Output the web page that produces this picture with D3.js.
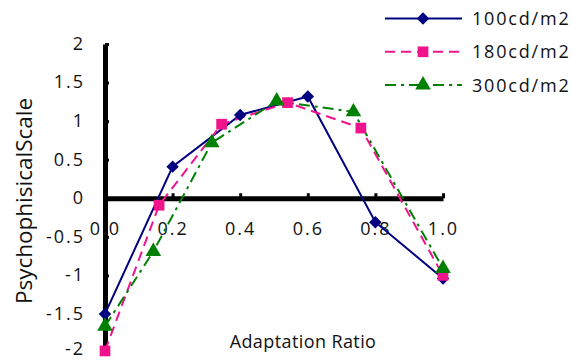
<!DOCTYPE html>
<html>
<head>
<meta charset="utf-8">
<script src="https://cdn.jsdelivr.net/npm/d3@7"></script>
<style>
  body { margin: 0; background: #fff; }
  svg { display: block; }
  text { font-family: "Open Sans", sans-serif; fill: #111; }
</style>
</head>
<body>
<svg width="572" height="362"></svg>
<script>
// series labels
const seriesNames = ['100cd/m2', '180cd/m2', '300cd/m2'];

// adaptation ratio (x) per series
const x100 = [0, 0.2, 0.4, 0.6, 0.8, 1.0];
const x180 = [0, 0.16, 0.345, 0.54, 0.757, 1.0];
const x300 = [0, 0.143, 0.316, 0.508, 0.735, 1.0];

// psychophysical scale (y) per series
const y100 = [-1.5, 0.41, 1.08, 1.32, -0.31, -1.04];
const y180 = [-1.98, -0.09, 0.96, 1.24, 0.91, -1.0];
const y300 = [-1.66, -0.69, 0.72, 1.26, 1.12, -0.91];

// tick values
const xTicks = [0, 0.2, 0.4, 0.6, 0.8, 1.0];
const yTicks = [-2, -1.5, -1, -0.5, 0, 0.5, 1, 1.5, 2];

// diamond = square turned 45 degrees
const series = [
    { name: seriesNames[0], xs: x100, ys: y100, color: '#000080', dash: null, symbol: d3.symbolSquare, size: 78, rot: 45 },
    { name: seriesNames[1], xs: x180, ys: y180, color: '#f0148c', dash: '10,6', symbol: d3.symbolSquare, size: 115, rot: 0 },
    { name: seriesNames[2], xs: x300, ys: y300, color: '#008000', dash: '11,5,3,5', symbol: d3.symbolTriangle, size: 105, rot: 0 }
];

const svg = d3.select('svg');

const x = d3.scaleLinear().domain([0, 1]).range([105, 443]);
const y = d3.scaleLinear().domain([-2, 2]).range([352.5, 44]);

// y axis (ticks point inward)
const yAxis = svg.append('g')
    .attr('transform', `translate(${x(0)},0)`)
    .call(d3.axisLeft(y).tickValues(yTicks).tickSizeInner(-4).tickSizeOuter(0).tickPadding(20)
        .tickFormat(d => String(d)));
yAxis.select('.domain').attr('stroke-width', 5);
yAxis.selectAll('.tick line').attr('stroke-width', 3);
yAxis.selectAll('text')
    .attr('dy', '0.3em')
    .style('font-size', '18px')
    .style('letter-spacing', '2px')
    .style('font-family', '"Open Sans", sans-serif')
    .attr('fill', '#111');
// keep the lowest label inside the frame
yAxis.selectAll('.tick').filter(d => d === -2).select('text').attr('dy', '0.1em');

// x axis sits at y = 0
const xAxis = svg.append('g')
    .attr('transform', `translate(0,${y(0)})`)
    .call(d3.axisBottom(x).tickValues(xTicks).tickSizeInner(-5).tickSizeOuter(0).tickPadding(24)
        .tickFormat(d => d.toFixed(1)));
xAxis.select('.domain').attr('stroke-width', 5);
xAxis.selectAll('.tick line').attr('stroke-width', 3);
xAxis.selectAll('text')
    .style('font-size', '18px')
    .style('letter-spacing', '2px')
    .style('font-family', '"Open Sans", sans-serif')
    .attr('fill', '#111');

// lines
const line = d3.line().x(d => x(d[0])).y(d => y(d[1]));

series.forEach(s => {
    const pts = s.xs.map((v, i) => [v, s.ys[i]]);
    svg.append('path')
        .datum(pts)
        .attr('fill', 'none')
        .attr('stroke', s.color)
        .attr('stroke-width', 2)
        .attr('stroke-dasharray', s.dash)
        .attr('d', line);
});

// markers on top
series.forEach(s => {
    const pts = s.xs.map((v, i) => [v, s.ys[i]]);
    svg.selectAll(null)
        .data(pts)
        .enter().append('path')
        .attr('transform', d => `translate(${x(d[0])},${y(d[1])}) rotate(${s.rot})`)
        .attr('d', d3.symbol().type(s.symbol).size(s.size))
        .attr('fill', s.color);
});

// axis titles
svg.append('text')
    .attr('x', 303)
    .attr('y', 348)
    .attr('text-anchor', 'middle')
    .style('font-size', '18px')
    .style('letter-spacing', '0.4px')
    .text('Adaptation Ratio');

svg.append('text')
    .attr('transform', 'translate(32,201) rotate(-90)')
    .attr('text-anchor', 'middle')
    .style('font-size', '22.5px')
    .text('PsychophisicalScale');

// legend
const legend = svg.append('g');
series.forEach((s, i) => {
    const ly = 18.5 + i * 33.3;
    legend.append('line')
        .attr('x1', 385).attr('x2', 462)
        .attr('y1', ly).attr('y2', ly)
        .attr('stroke', s.color)
        .attr('stroke-width', 2)
        .attr('stroke-dasharray', s.dash);
    legend.append('path')
        .attr('transform', `translate(423,${ly}) rotate(${s.rot})`)
        .attr('d', d3.symbol().type(s.symbol).size(s.size))
        .attr('fill', s.color);
    legend.append('text')
        .attr('x', 472)
        .attr('y', ly)
        .attr('dy', '0.36em')
        .style('font-size', '18px')
        .style('letter-spacing', '1.8px')
        .text(s.name);
});
</script>
</body>
</html>
